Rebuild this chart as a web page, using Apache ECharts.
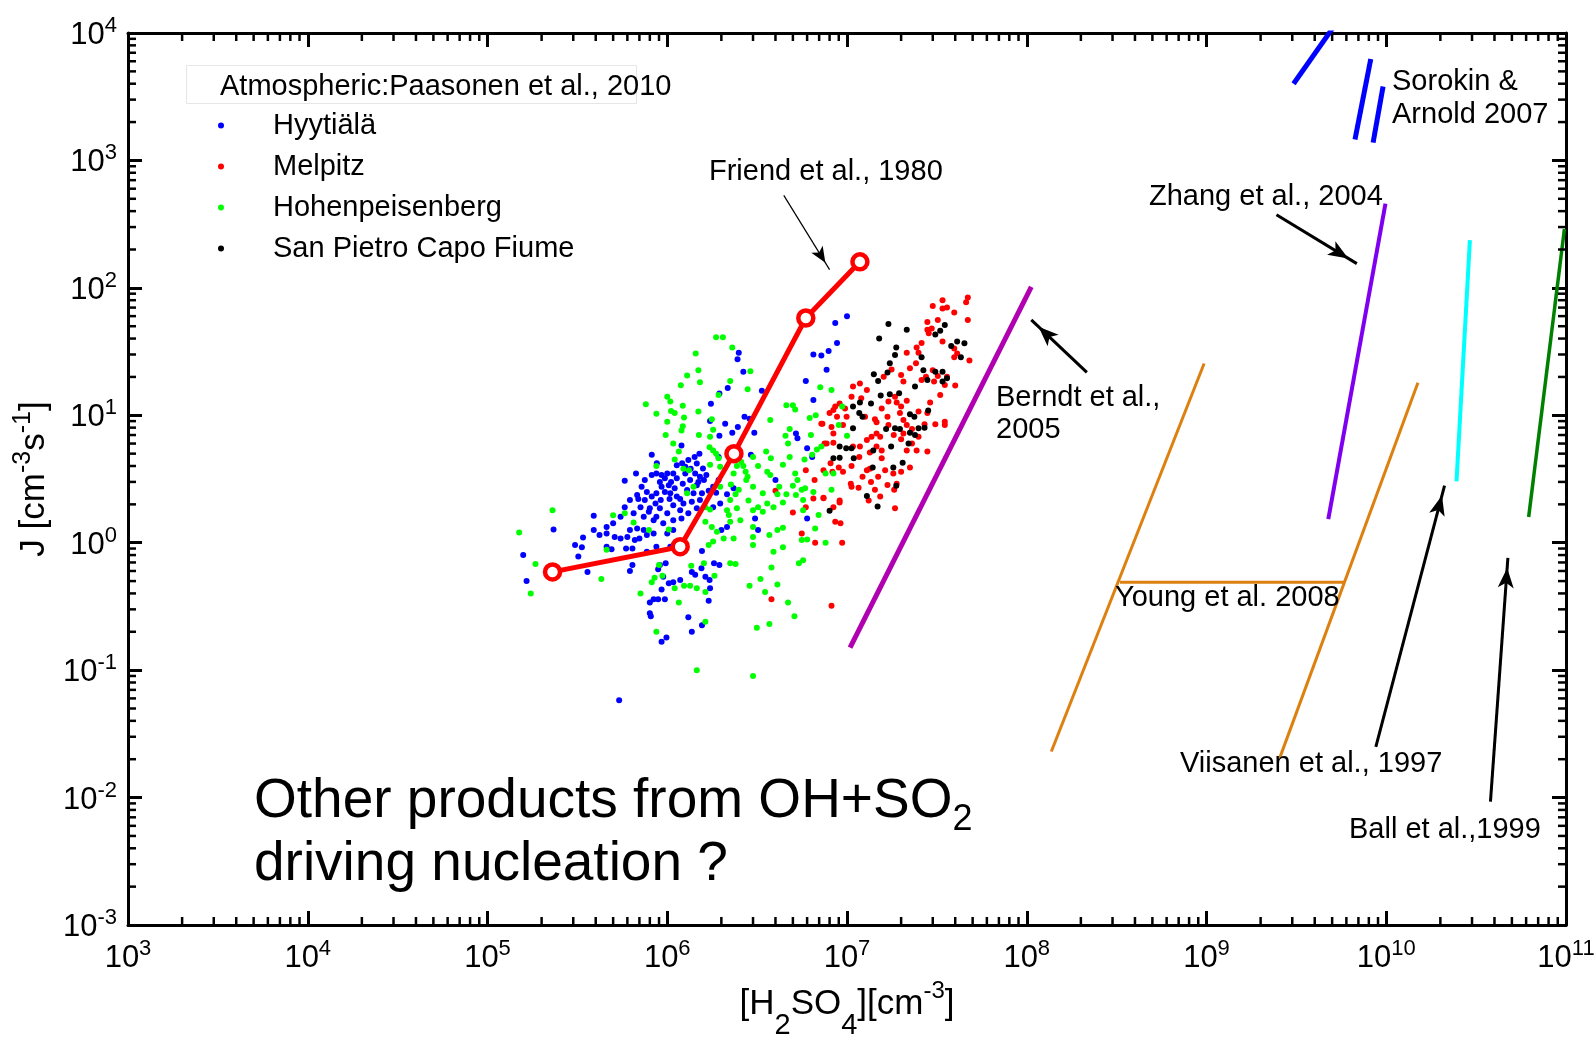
<!DOCTYPE html>
<html>
<head>
<meta charset="utf-8">
<script src="https://cdn.jsdelivr.net/npm/echarts@6/dist/echarts.min.js"></script>
<style>
html,body{margin:0;padding:0;background:#fff;}
#chart{width:1596px;height:1039px;}
</style>
</head>
<body>
<div id="chart"></div>
<script>
// ---------- data (x = [H2SO4] cm^-3, y = J cm^-3 s^-1) ----------
const xTicks = [1e3, 1e4, 1e5, 1e6, 1e7, 1e8, 1e9, 1e10, 1e11];
const yTicks = [1e-3, 1e-2, 1e-1, 1, 10, 100, 1e3, 1e4];

const hyytiala = [
[1.0e7,60],[8.6e6,53],[8.8e6,37],[7.9e6,32],[7.2e6,29.5],[6.5e6,30],[7.7e6,22.8],[2.5e6,31],[2.46e6,27.5],[2.65e6,22],
[3.36e6,15.6],[2.17e6,16.4],[1.95e6,14.8],[6.5e6,13.2],[5.9e6,18.6],[1.75e6,12.3],[1.73e6,9.0],[2.1e6,8.6],[2.47e6,8.1],[2.69e6,9.75],
[2.87e6,9.4],[3.05e6,7.3],[2.3e6,7.3],[1.95e6,6.9],[5.2e6,7.2],[5.3e6,6.6],[2.92e6,4.9],[1.93e6,4.7],[8.2e5,4.9],[8.75e5,4.2],
[1.2e6,5.8],[1.42e6,4.7],[1.51e6,5.0],[1.21e6,4.2],[1.13e6,4.06],[1.35e6,3.8],[1.43e6,3.5],[1.52e6,3.3],[1.6e6,3.1],[1.34e6,3.1],
[1.22e6,2.9],[1.08e6,3.5],[1.0e6,3.5],[9.3e5,3.4],[9.1e5,3.0],[8.2e5,3.4],[7.5e5,3.1],[6.7e5,3.5],[5.8e5,3.06],[1.05e6,3.0],
[9.7e5,2.5],[1.03e6,2.2],[9.2e5,2.16],[8.6e5,2.03],[8.0e5,1.86],[7.9e5,1.75],[1.08e6,1.97],[1.18e6,2.2],[1.23e6,2.03],[1.37e6,2.1],
[1.56e6,2.44],[1.7e6,2.56],[1.87e6,2.47],[1.0e6,1.7],[8.7e5,1.6],[8.4e5,1.5],[9.5e5,1.42],[1.08e6,1.5],[1.2e6,1.55],[6.9e5,2.2],
[6.2e5,2.16],[7.4e5,1.6],[6.5e5,1.7],[5.8e5,1.9],[5.0e5,1.42],[4.6e5,1.18],[3.9e5,1.26],[4.2e5,1.15],[3.9e5,1.63],[3.4e5,1.1],
[3.07e5,0.96],[3.35e5,0.92],[3.6e5,0.59],[3.2e5,0.78],[5.1e5,1.11],[5.5e5,1.08],[6.0e5,1.11],[6.2e5,1.26],[6.8e5,1.29],[7.4e5,1.26],
[7.7e5,1.15],[5.9e5,0.9],[6.4e5,0.9],[6.6e5,1.05],[7.0e5,1.08],[4.9e5,0.89],[4.6e5,0.93],[7.7e5,0.85],[9.1e5,0.67],[9.8e5,0.69],
[9.5e5,0.54],[8.9e5,0.62],[9.3e5,0.43],[1.02e6,0.48],[1.08e6,0.49],[1.18e6,0.51],[1.37e6,0.59],[1.43e6,0.56],[1.55e6,0.63],[1.63e6,0.54],
[1.72e6,0.51],[1.82e6,0.69],[1.95e6,0.67],[1.56e6,0.86],[1.73e6,0.44],[1.7e6,0.35],[8.4e5,0.36],[8.9e5,0.36],[9.7e5,0.36],[8.0e5,0.34],
[8.0e5,0.28],[8.1e5,0.265],[1.31e6,0.26],[1.56e6,0.225],[1.37e6,0.2],[9.3e5,0.167],[9.9e5,0.18],[5.4e5,0.058],[6.2e5,0.6],[6.4e5,0.67],
[1.58e5,0.8],[1.65e5,0.5],[2.33e5,1.27],[2.0e6,1.26],[2.15e6,1.33],[3.2e6,1.26],[3.08e6,1.55],[4.0e6,3.1],[6.0e6,1.55],[2.15e6,2.4],
[2.34e6,2.67],[1.8e6,1.9],[1.97e6,2.03],[6.0e6,5.5],[6.4e6,4.7],[9.3e5,2.75],[1.02e6,2.83],[1.1e6,2.67],[1.29e6,2.59],[1.46e6,2.83],
[1.58e6,3.83],[1.65e6,3.4],[1.31e6,4.46],[1.26e6,3.95],[1.46e6,4.19],[7.7e5,2.5],[7.2e5,2.75],[6.8e5,2.37],[8.2e5,2.3],
[8.7e5,3.5],[9.7e5,3.2],[1.13e6,3.2],[1.26e6,3.5],[1.49e6,3.0],[1.04e6,2.44],[1.13e6,2.3],[1.4e6,2.44],[1.52e6,2.16],[8.7e5,2.44],
[7.5e5,2.16],[7.1e5,1.9],[9.1e5,1.86],[1.18e6,1.8],[1.31e6,1.7],[1.46e6,1.86],[1.8e6,2.75],[1.93e6,3.1],[8.4e5,1.18],[1.0e6,1.18],
[1.08e6,1.26],[8.7e5,0.93],[1.04e6,0.93],[5.5e5,1.6],[4.6e5,1.33]
];

const melpitz = [
[4.7e7,84],[4.6e7,77],[3.4e7,80],[3.4e7,69],[3.6e7,70],[3.0e7,72],[3.95e7,64],[4.7e7,56],[2.8e7,54],[3.2e7,56],
[2.96e7,48],[2.8e7,47],[2.85e7,44],[2.6e7,37],[3.4e7,38],[2.44e7,34],[2.5e7,31],[3.95e7,33.5],[3.95e7,28.5],[4.1e7,30.6],
[4.8e7,26.9],[2.15e7,31],[2.42e7,25.6],[2.24e7,23.4],[2.0e7,20.7],[2.06e7,18.4],[1.77e7,22.9],[1.6e7,20.1],[2.6e7,18.9],[3.0e7,22.6],
[3.6e7,20.1],[3.5e7,17.3],[4.0e7,17.1],[3.3e7,14.4],[2.9e7,12.6],[2.8e7,10.4],[3.5e7,8.9],[3.5e7,8.4],[3.1e7,8.5],[2.7e7,8.5],
[2.8e7,5.2],[2.44e7,5.3],[2.15e7,5.3],[2.3e7,6.0],[2.5e7,6.8],[2.3e7,7.8],[2.15e7,8.4],[2.06e7,9.2],[1.97e7,10.4],[2.0e7,11.7],
[1.89e7,12.6],[2.15e7,13.0],[1.85e7,14],[1.7e7,12.8],[1.56e7,11.3],[1.68e7,9.75],[1.46e7,8.8],[1.46e7,7.2],[1.53e7,6.8],[1.37e7,6.8],
[1.29e7,6.4],[1.46e7,5.7],[1.56e7,5.3],[1.56e7,4.6],[1.34e7,5.1],[1.7e7,8.4],[1.82e7,7.0],[2.0e7,6.5],[1.63e7,3.7],[1.49e7,3.3],
[1.34e7,3.8],[1.22e7,3.3],[1.36e7,3.0],[1.06e7,2.75],[1.18e7,5.7],[1.08e7,5.7],[1.29e7,3.7],[1.32e7,2.14],[1.53e7,2.3],[1.68e7,2.84],
[1.81e7,3.5],[2.0e7,3.6],[2.24e7,3.9],[1.89e7,2.9],[1.83e7,2.6],[1.85e7,1.86],[9.1e6,2.14],[7.4e6,2.23],[8.6e6,1.46],
[9.2e6,1.42],[1.05e7,2.9],[9.5e6,3.6],[8.3e6,3.6],[7.5e6,6.0],[8.4e6,6.1],[7.3e6,8.6],[8.2e6,8.1],[8.0e6,10.4],[8.8e6,9.75],
[9.1e6,12.4],[8.6e6,11.7],[9.75e6,11.3],[9.95e6,9.75],[9.5e6,8.4],[1.08e7,16.8],[1.18e7,17.8],[1.06e7,14],[1.2e7,13.6],[1.29e7,15.8],
[1.43e7,9.3],[1.26e7,9.75],[7.4e6,3.7],[5.9e6,3.7],[6.6e6,3.1],[1.16e7,2.7],[1.43e7,2.6],[2.06e7,7.2],[2.5e7,10.7],[3.05e7,18.4],
[3.2e7,20.3],[2.75e7,20.1],[4.0e6,2.56],[5.0e6,1.73],[5.9e6,1.9],[6.5e6,2.22],[7.4e6,2.25],[8.4e6,1.9],[9.1e6,2.07],
[9.4e6,1.0],[6.65e6,1.0],[5.6e6,1.18],[8.2e6,0.32],[3.8e6,0.36],[7.2e6,8.6],[7.7e6,6.0],[8.4e6,7.2],[8.1e6,4.2],
[9.0e6,3.9],[1.06e7,4.0],[1.17e7,4.7],[8.4e6,11]
];

const hohenpeisenberg = [
[1.87e6,41],[2.04e6,41],[2.3e6,34],[1.44e6,30.6],[1.49e6,22.6],[1.29e6,20.5],[1.52e6,18.2],[1.19e6,17.2],[2.24e6,18.6],[2.9e6,22.2],
[2.8e6,16],[1.93e6,14.4],[1.0e6,14],[1.04e6,12.8],[7.6e5,12.2],[1.22e6,11.9],[1.05e6,10.8],[8.7e5,10.3],[1.1e6,10.4],[1.24e6,9.6],
[1.49e6,10.7],[1.77e6,9.3],[1.0e6,8.9],[1.22e6,8.2],[1.2e6,7.6],[9.8e5,7.0],[1.5e6,7.0],[1.73e6,6.8],[1.8e6,7.7],[1.08e6,6.0],
[1.72e6,5.6],[1.16e6,5.2],[8.7e5,4.0],[1.1e6,4.5],[1.23e6,3.8],[1.32e6,3.7],[1.8e6,5.3],[1.87e6,5.0],[1.93e6,4.6],[1.73e6,4.1],
[2.58e6,4.3],[2.65e6,4.0],[2.73e6,3.6],[2.8e6,3.3],[3.2e6,4.0],[3.55e6,5.2],[3.77e6,4.6],[3.6e6,3.6],[3.74e6,3.4],[4.4e6,4.1],
[4.55e6,6.9],[4.7e6,6.0],[4.6e6,12],[5.0e6,12],[5.15e6,11.1],[4.8e6,7.8],[3.74e6,9.2],[6.3e6,7.0],[6.2e6,9.5],[7.1e6,16.6],
[8.2e6,15.8],[6.7e6,10],[5.8e6,4.5],[6.4e6,4.9],[6.8e6,5.4],[7.2e6,5.7],[5.15e6,3.5],[5.3e6,3.1],[5.0e6,2.8],[5.6e6,2.6],
[5.85e6,2.67],[6.5e6,2.5],[5.7e6,2.16],[5.7e6,1.8],[4.6e6,2.4],[4.4e6,2.07],[4.1e6,2.4],[3.6e6,2.03],[3.4e6,1.75],[3.2e6,1.9],
[3.0e6,1.8],[2.83e6,2.14],[2.5e6,2.6],[2.4e6,2.4],[2.26e6,2.86],[2.24e6,2.16],[2.44e6,1.86],[2.2e6,1.65],[1.73e6,1.82],[1.63e6,1.46],
[1.77e6,1.33],[1.89e6,1.22],[2.06e6,1.08],[2.34e6,1.08],[1.8e6,1.02],[1.7e6,0.96],[3.0e6,1.11],[3.0e6,0.96],[3.7e6,1.15],[4.1e6,1.26],
[4.4e6,1.31],[4.4e6,0.92],[3.9e6,0.85],[3.8e6,0.64],[3.3e6,0.52],[2.87e6,0.46],[3.5e6,0.41],[4.1e6,0.47],[4.7e6,0.34],[5.1e6,0.265],
[3.7e6,0.23],[3.15e6,0.215],[5.7e6,0.73],[5.4e6,0.69],[5.6e6,1.05],[6.0e6,1.06],[6.65e6,1.29],[6.95e6,1.65],[7.6e6,1.0],[7.6e6,3.5],
[8.2e6,2.6],[8.4e6,3.5],[2.24e6,1.46],[2.4e6,0.68],[2.24e6,0.69],[1.83e6,0.55],[1.6e6,0.69],[1.36e6,0.66],[1.24e6,0.46],[1.34e6,0.46],
[1.46e6,0.44],[1.63e6,0.41],[1.1e6,0.44],[1.16e6,0.34],[8.2e5,0.49],[8.5e5,0.53],[9.0e5,0.67],[9.4e5,0.55],[7.1e5,0.4],[8.7e5,0.2],
[1.63e6,0.24],[1.46e6,0.1],[3.0e6,0.09],[5.2e6,2.37],[4.3e5,0.52],[4.6e5,0.88],[5.0e5,1.64],[5.8e5,1.7],[6.5e5,1.44],[7.9e5,1.26],
[1.02e6,1.27],[2.3e5,1.8],[1.5e5,1.2],[1.85e5,0.68],[1.74e5,0.4],[1.29e6,2.44],[1.4e6,2.75],[1.63e6,1.9],[1.97e6,2.75],[2.44e6,4.0],
[2.75e6,3.1],[9.4e6,11.7],[9.0e6,8.4],[1.0e7,6.9],[1.97e6,3.95],[2.34e6,3.5],[3.0e6,2.75],[3.4e6,2.44],[3.9e6,1.9],[3.0e6,4.7],
[2.34e6,5.0],[2.15e6,1.8],[2.55e6,1.5],[3.0e6,1.33],[4.2e6,2.75],[4.8e6,4.7]
];

const sanPietro = [
[1.7e7,52],[2.15e7,47],[1.51e7,40],[3.5e7,51],[3.3e7,46],[3.1e7,43],[4.1e7,38],[4.5e7,36.7],[3.8e7,35],[4.3e7,28.5],
[1.88e7,34],[1.85e7,29.7],[1.73e7,25.6],[1.68e7,21.7],[1.49e7,18.6],[1.41e7,21],[2.6e7,28.5],[2.66e7,22.6],[2.8e7,18.9],[3.1e7,22],
[3.4e7,22],[3.6e7,19.5],[3.4e7,18.4],[2.39e7,16.8],[1.54e7,14.3],[1.73e7,14.6],[1.95e7,14.9],[1.36e7,12.4],[1.18e7,12.6],[1.08e7,11.7],
[1.17e7,10.4],[1.22e7,9.75],[2.24e7,10.2],[2.37e7,9.75],[2.83e7,10.9],[1.08e7,7.9],[1.65e7,7.8],[1.85e7,7.9],[1.97e7,7.8],[2.24e7,7.3],
[2.39e7,7.0],[2.5e7,7.9],[2.7e7,8.0],[2.2e7,6.0],[1.76e7,5.7],[1.4e7,5.3],[9.1e6,5.7],[9.9e6,5.5],[1.06e7,5.5],[8.4e6,4.6],
[9.1e6,4.65],[1.09e7,4.6],[1.39e7,3.9],[1.81e7,3.9],[2.04e7,4.25],[1.88e7,2.8],[1.29e7,2.33],[1.48e7,1.92],[8.0e6,1.78]
];

const friend = [[2.3e5,0.59],[1.18e6,0.93],[2.35e6,5.0],[5.9e6,58],[1.18e7,160]];
const berndt = [[1.04e7,0.15],[1.06e8,102]];
const youngLeft = [[1.37e8,0.023],[9.7e8,25.5]];
const youngRight = [[2.55e9,0.0203],[1.5e10,18]];
const youngBridge = [[3.3e8,0.49],[5.9e9,0.49]];
const zhang = [[4.76e9,1.53],[9.9e9,458]];
const viisanen = [[2.46e10,3.03],[2.92e10,237]];
const ball = [[6.2e10,1.59],[9.8e10,290]];
const sorokin1 = [[3.05e9,4.0e3],[5.1e9,1.12e4]];
const sorokin2 = [[6.7e9,1460],[8.2e9,6250]];
const sorokin3 = [[8.45e9,1380],[9.6e9,3800]];

// arrows: [tail, tip]
const friendArrow = [[4.45e6,532],[8.0e6,139]];
const berndtArrow = [[2.16e8,21.7],[1.06e8,56]];
const zhangArrow = [[2.45e9,375],[6.86e9,155]];
const viisanenArrow = [[8.75e9,0.025],[2.11e10,2.8]];
const ballArrow = [[3.8e10,0.0093],[4.75e10,0.76]];

// ---------- layout / styling ----------
const FONT = 'Liberation Sans, Arial, Helvetica, sans-serif';
const chart = echarts.init(document.getElementById('chart'), null, {renderer: 'canvas'});

const tickFmt = v => '{b|10}{s|' + Math.round(Math.log10(v)) + '}';
const tickRich = {
  b: {fontSize: 31, fontFamily: FONT, color: '#000', padding: [5, 0, 0, 0]},
  s: {fontSize: 22, fontFamily: FONT, color: '#000', verticalAlign: 'top'}
};

// minor tick positions (2..9 within each decade) drawn through the axis scale
const mantissas = [2, 3, 4, 5, 6, 7, 8, 9];
const xMinor = [], yMinor = [];
xTicks.slice(0, -1).forEach(d => mantissas.forEach(m => xMinor.push([d * m, 1])));
yTicks.slice(0, -1).forEach(d => mantissas.forEach(m => yMinor.push([1e5, d * m])));

function minorTickSeries(data, isX) {
  return {
    type: 'custom', silent: true, z: 10, data: data,
    renderItem: function (params, api) {
      const cs = params.coordSys;
      const p = api.coord([api.value(0), api.value(1)]);
      const L = 8, st = {stroke: '#000', lineWidth: 2.5};
      if (isX) {
        return {type: 'group', children: [
          {type: 'line', shape: {x1: p[0], y1: cs.y + cs.height, x2: p[0], y2: cs.y + cs.height - L}, style: st},
          {type: 'line', shape: {x1: p[0], y1: cs.y, x2: p[0], y2: cs.y + L}, style: st}
        ]};
      }
      return {type: 'group', children: [
        {type: 'line', shape: {x1: cs.x, y1: p[1], x2: cs.x + L, y2: p[1]}, style: st},
        {type: 'line', shape: {x1: cs.x + cs.width, y1: p[1], x2: cs.x + cs.width - L, y2: p[1]}, style: st}
      ]};
    }
  };
}

function axisBase() {
  return {
    type: 'log', logBase: 10, splitNumber: 8,
    splitLine: {show: false},
    axisLine: {onZero: false, lineStyle: {color: '#000', width: 3}},
    axisTick: {inside: true, length: 14, lineStyle: {color: '#000', width: 3}},
    minorTick: {show: false}
  };
}

function lineSeries(data, color, width) {
  return {type: 'line', data: data, showSymbol: false, symbol: 'none', silent: true,
          lineStyle: {color: color, width: width}, z: 3};
}

function arrow(pair, width, size) {
  return [
    {coord: pair[0], symbol: 'none', lineStyle: {color: '#000', width: width, type: 'solid'}},
    {coord: pair[1], symbol: 'arrow', symbolSize: size, symbolOffset: [0, '50%'],
     itemStyle: {color: '#000'}}
  ];
}

const scatterNames = ['Hyytiälä', 'Melpitz', 'Hohenpeisenberg', 'San Pietro Capo Fiume'];
const scatterData = [hyytiala, melpitz, hohenpeisenberg, sanPietro];
const scatterColors = ['#0000ff', '#ff0000', '#00ff00', '#000000'];

const annotations = [
  {t: 'Friend et al., 1980', x: 709, y: 172},
  {t: 'Berndt et al.,', x: 996, y: 398},
  {t: '2005', x: 996, y: 430},
  {t: 'Zhang et al., 2004', x: 1149, y: 197},
  {t: 'Young et al. 2008', x: 1115, y: 598},
  {t: 'Viisanen et al., 1997', x: 1180, y: 764},
  {t: 'Ball et al.,1999', x: 1349, y: 830},
  {t: 'Sorokin &', x: 1392, y: 82},
  {t: 'Arnold 2007', x: 1392, y: 115}
];

const series = [];
scatterNames.forEach((n, i) => series.push({
  name: n, type: 'scatter', data: scatterData[i], symbolSize: 6, silent: true,
  itemStyle: {color: scatterColors[i], opacity: 1}, z: 2
}));
series.push(Object.assign(lineSeries(berndt, '#b000b0', 5), {
  markLine: {
    silent: true, animation: false, label: {show: false}, symbol: ['none', 'arrow'],
    data: [
      arrow(friendArrow, 1.2, [10, 16]),
      arrow(berndtArrow, 3, [12, 20]),
      arrow(zhangArrow, 3, [12, 20]),
      arrow(viisanenArrow, 3, [12, 20]),
      arrow(ballArrow, 3, [12, 20])
    ]
  }
}));
series.push(lineSeries(youngLeft, '#dd8010', 3));
series.push(lineSeries(youngRight, '#dd8010', 3));
series.push(lineSeries(youngBridge, '#dd8010', 3));
series.push(lineSeries(zhang, '#7f00f0', 4));
series.push(lineSeries(viisanen, '#00ffff', 4));
series.push(lineSeries(ball, '#008000', 3.5));
series.push(lineSeries(sorokin1, '#0000ff', 5));
series.push(lineSeries(sorokin2, '#0000ff', 5));
series.push(lineSeries(sorokin3, '#0000ff', 5));
series.push({
  name: 'Friend et al., 1980', type: 'line', data: friend, symbol: 'circle', symbolSize: 15,
  showSymbol: true, silent: true, z: 5,
  lineStyle: {color: '#ff0000', width: 5},
  itemStyle: {color: '#ffffff', borderColor: '#ff0000', borderWidth: 4.5}
});
series.push(minorTickSeries(xMinor, true));
series.push(minorTickSeries(yMinor, false));

const graphics = [
  {type: 'rect', shape: {x: 186.5, y: 65.5, width: 450, height: 38}, style: {fill: 'none', stroke: '#e6e6e6', lineWidth: 1}, z: 1},
  {type: 'text', x: 220, y: 87, style: {text: 'Atmospheric:Paasonen et al., 2010', fontSize: 29, fontFamily: FONT, fill: '#000', verticalAlign: 'middle'}, z: 20}
];
annotations.forEach(a => graphics.push({
  type: 'text', x: a.x, y: a.y, z: 20,
  style: {text: a.t, fontSize: 29, fontFamily: FONT, fill: '#000', verticalAlign: 'middle'}
}));
graphics.push({
  type: 'text', x: 254, y: 774, z: 20,
  style: {
    text: '{m|Other products from OH+SO}{s|2}', verticalAlign: 'top',
    rich: {
      m: {fontSize: 55, fontFamily: FONT, fill: '#000', padding: [0, 0, 9, 0]},
      s: {fontSize: 36, fontFamily: FONT, fill: '#000', verticalAlign: 'bottom'}
    }
  }
});
graphics.push({
  type: 'text', x: 254, y: 865, z: 20,
  style: {text: 'driving nucleation ?', fontSize: 55, fontFamily: FONT, fill: '#000', verticalAlign: 'middle'}
});

const option = {
  animation: false,
  backgroundColor: '#fff',
  grid: {left: 128, right: 30, top: 33, bottom: 114, containLabel: false, outerBoundsMode: 'none'},
  legend: {
    data: scatterNames, orient: 'vertical', left: 218, top: 111, padding: 0, itemGap: 12,
    icon: 'circle', itemWidth: 94, itemHeight: 6, selectedMode: false,
    textStyle: {fontSize: 29, fontFamily: FONT, color: '#000', lineHeight: 29}
  },
  xAxis: [
    Object.assign(axisBase(), {
      position: 'bottom', min: xTicks[0], max: xTicks[xTicks.length - 1],
      axisLabel: {formatter: tickFmt, rich: tickRich, margin: 13, showMinLabel: true, showMaxLabel: true},
      name: '{m|[H}{sub|2}{m|SO}{sub|4}{m|][cm}{sup|-3}{m|]}',
      nameLocation: 'middle', nameGap: 50,
      nameTextStyle: {
        rich: {
          m: {fontSize: 35, fontFamily: FONT, color: '#000', padding: [8, 0, 19, 0]},
          sub: {fontSize: 29, fontFamily: FONT, color: '#000', verticalAlign: 'bottom'},
          sup: {fontSize: 24, fontFamily: FONT, color: '#000', verticalAlign: 'top'}
        }
      }
    }),
    Object.assign(axisBase(), {
      position: 'top', min: xTicks[0], max: xTicks[xTicks.length - 1], axisLabel: {show: false}
    })
  ],
  yAxis: [
    Object.assign(axisBase(), {
      position: 'left', min: yTicks[0], max: yTicks[yTicks.length - 1],
      axisLabel: {formatter: tickFmt, rich: tickRich, margin: 11, showMinLabel: true, showMaxLabel: true},
      name: '{m|J [cm}{sup|-3}{m|s}{sup|-1}{m|]}',
      nameLocation: 'middle', nameGap: 76, nameRotate: 90,
      nameTextStyle: {
        rich: {
          m: {fontSize: 35, fontFamily: FONT, color: '#000', padding: [6, 0, 0, 0]},
          sup: {fontSize: 25, fontFamily: FONT, color: '#000', verticalAlign: 'top'}
        }
      }
    }),
    Object.assign(axisBase(), {
      position: 'right', min: yTicks[0], max: yTicks[yTicks.length - 1], axisLabel: {show: false}
    })
  ],
  graphic: graphics,
  series: series
};
chart.setOption(option);
</script>
</body>
</html>
